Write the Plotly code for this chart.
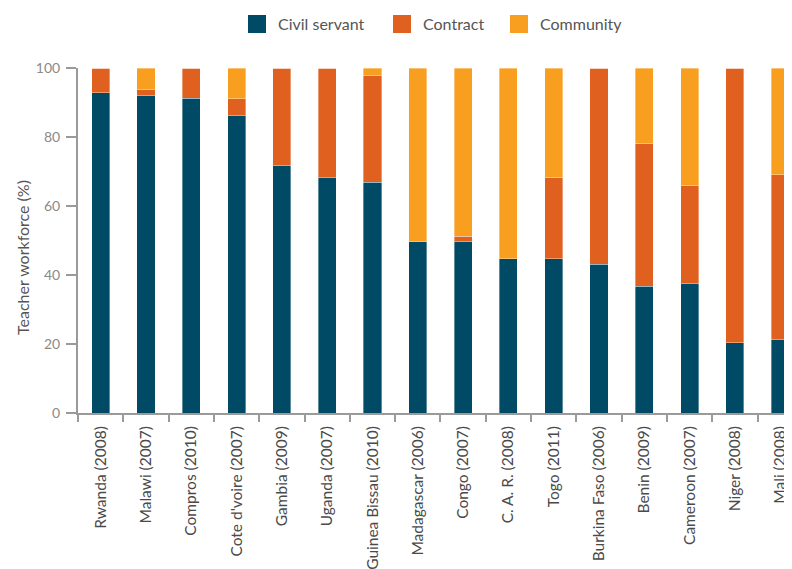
import plotly.graph_objects as go

categories = ["Rwanda (2008)", "Malawi (2007)", "Compros (2010)", "Cote d'voire (2007)",
              "Gambia (2009)", "Uganda (2007)", "Guinea Bissau (2010)", "Madagascar (2006)",
              "Congo (2007)", "C. A. R. (2008)", "Togo (2011)", "Burkina Faso (2006)",
              "Benin (2009)", "Cameroon (2007)", "Niger (2008)", "Mali (2008)"]
civil_servant = [92.8, 92.0, 91.2, 86.3, 71.7, 68.3, 66.9, 49.6, 49.6, 44.7, 44.7, 43.1, 36.7, 37.5, 20.4, 21.2]
contract =      [7.2, 1.7, 8.8, 4.8, 28.3, 31.7, 30.9, 0.0, 1.7, 0.0, 23.6, 56.9, 41.4, 28.3, 79.6, 47.9]
community =     [0.0, 6.3, 0.0, 8.9, 0.0, 0.0, 2.2, 50.4, 48.7, 55.3, 31.7, 0.0, 21.9, 34.2, 0.0, 30.9]
y_ticks = [0, 20, 40, 60, 80, 100]

series = [("Civil servant", civil_servant, "#004a66"),
          ("Contract", contract, "#e0601f"),
          ("Community", community, "#f89f1f")]

# the page has an 8px body margin, so the figure is sized to fit inside it
OFF = 8
W, H = 792 - OFF, 569 - OFF
L, R, T, B = 70, 0, 60, 156
PW, PH = W - L - R, H - T - B


def px_x(p):
    # p is in page pixels
    return (p - OFF - L) / PW


def px_y(p):
    return (H - B - (p - OFF)) / PH


fig = go.Figure()
for name, vals, col in series:
    fig.add_trace(go.Bar(
        x=categories, y=vals, name=name,
        marker=dict(color=col, line=dict(color="rgba(255,255,255,0.6)", width=0.6)),
        width=0.40, showlegend=False,
    ))

# custom legend (big squares like the reference)
legend_pos = [(248, 276), (393, 421), (510, 538)]
shapes = []
annotations = []
for (name, _, col), (sx, tx) in zip(series, legend_pos):
    shapes.append(dict(type="rect", xref="paper", yref="paper",
                       x0=px_x(sx), x1=px_x(sx + 18), y0=px_y(33), y1=px_y(15),
                       fillcolor=col, line=dict(width=0)))
    annotations.append(dict(text=name, xref="paper", yref="paper",
                            x=px_x(tx), y=px_y(24), xanchor="left", yanchor="middle",
                            showarrow=False, font=dict(size=16, color="#555555")))

annotations.append(dict(text="Teacher workforce (%)", xref="paper", yref="paper",
                        x=px_x(22), y=px_y(258), xanchor="center", yanchor="middle",
                        textangle=-90, showarrow=False,
                        font=dict(size=16, color="#555555")))

fig.update_layout(
    barmode="stack",
    width=W, height=H,
    margin=dict(l=L, r=R, t=T, b=B, autoexpand=False),
    paper_bgcolor="white", plot_bgcolor="white",
    font=dict(family="Lato, Open Sans, sans-serif", color="#555555", size=16),
    showlegend=False,
    shapes=shapes,
    annotations=annotations,
)
fig.update_xaxes(
    type="category", automargin=False,
    range=[-0.5, 15.26],
    showline=True, linecolor="#9a9a9a", linewidth=2,
    ticks="outside", tickson="boundaries", ticklen=7, tickcolor="#9a9a9a", tickwidth=2,
    tickangle=-90, tickfont=dict(size=15.5, color="#4a4a4a"), ticklabelstandoff=5,
    showgrid=False,
)
fig.update_yaxes(
    automargin=False,
    range=[0, 100], tickvals=y_ticks,
    showline=True, linecolor="#9a9a9a", linewidth=2,
    ticks="outside", ticklen=10, tickcolor="#9a9a9a", tickwidth=2,
    tickfont=dict(size=14, color="#8a8a8a"), ticklabelstandoff=3,
    showgrid=False, zeroline=False,
)

fig.write_html("out.html")
